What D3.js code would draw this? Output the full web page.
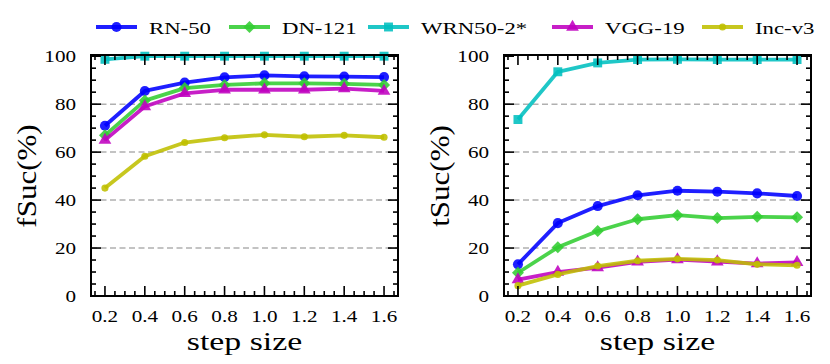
<!DOCTYPE html>
<html>
<head>
<meta charset="utf-8">
<script src="https://cdn.jsdelivr.net/npm/d3@7"></script>
<style>
  body { margin: 0; background: #fff; }
  svg text { font-family: "Liberation Serif", "Times New Roman", serif; fill: #000; }
</style>
</head>
<body>
<svg id="chart" width="830" height="364"></svg>
<script>
// step sizes on the x axis
var steps = [0.2, 0.4, 0.6, 0.8, 1.0, 1.2, 1.4, 1.6];
var stepTicks = ["0.2", "0.4", "0.6", "0.8", "1.0", "1.2", "1.4", "1.6"];
var yTicks = [0, 20, 40, 60, 80, 100];
var models = ["RN-50", "DN-121", "WRN50-2*", "VGG-19", "Inc-v3"];

// fSuc (%) per model
var fsucRN50  = [71, 85.5, 89, 91.2, 92, 91.6, 91.5, 91.3];
var fsucDN121 = [67, 81.5, 86.7, 88, 88.7, 88.7, 88.5, 88];
var fsucWRN   = [98.7, 100, 100, 100, 100, 100, 100, 100];
var fsucVGG   = [65, 79, 84.5, 86, 86, 86, 86.5, 85.5];
var fsucInc   = [45, 58.3, 64, 66, 67.2, 66.4, 67, 66.2];

// tSuc (%) per model
var tsucRN50  = [13.2, 30.4, 37.5, 42, 43.9, 43.5, 42.8, 41.7];
var tsucDN121 = [9.7, 20.3, 27.1, 32, 33.7, 32.5, 33, 32.8];
var tsucWRN   = [73.6, 93.5, 97.2, 98.6, 98.7, 98.6, 98.6, 98.6];
var tsucVGG   = [6.8, 10, 11.8, 14.2, 15.2, 14.3, 13.5, 14];
var tsucInc   = [4.3, 9, 12.5, 14.7, 15.5, 15, 13.2, 12.8];

var colors = ["#0000ff", "#32cd32", "#00bfbf", "#bf00bf", "#bfbf00"];
var markerShapes = ["circle", "diamond", "square", "triangle", "smallcircle"];

var svg = d3.select("#chart");

function markerPath(kind) {
    if (kind === "circle") return d3.symbol(d3.symbolCircle, 80)();
    if (kind === "smallcircle") return d3.symbol(d3.symbolCircle, 40)();
    if (kind === "square") return d3.symbol(d3.symbolSquare, 80)();
    if (kind === "diamond") return d3.symbol(d3.symbolSquare, 72)();
    return d3.symbol(d3.symbolTriangle, 70)();
}

// the reference text is a bit wide, so stretch it horizontally
function addText(parent, x, y, str, size, anchor, sx, rotate) {
    var t = parent.append("text")
        .attr("transform", "translate(" + x + "," + y + ")" +
            (rotate ? " rotate(" + rotate + ")" : "") + " scale(" + sx + ",1)")
        .attr("text-anchor", anchor || "start")
        .style("font-size", size + "px")
        .text(str);
    return t;
}

function drawPanel(left, label, seriesList) {
    var top = 55, bottom = 296, width = 307;
    var x = d3.scaleLinear().domain([0.13, 1.67]).range([left, left + width]);
    var y = d3.scaleLinear().domain([0, 100.5]).range([bottom, top]);
    var g = svg.append("g");

    // dashed grid
    g.selectAll(".grid").data([20, 40, 60, 80]).enter().append("line")
        .attr("x1", left).attr("x2", left + width)
        .attr("y1", function(d) { return y(d); })
        .attr("y2", function(d) { return y(d); })
        .attr("stroke", "#b0b0b0").attr("stroke-width", 1.5)
        .attr("stroke-dasharray", "6,3.5");

    // lines + markers
    var line = d3.line()
        .x(function(d, i) { return x(steps[i]); })
        .y(function(d) { return y(d); });
    seriesList.forEach(function(vals, k) {
        g.append("path").datum(vals)
            .attr("d", line)
            .attr("fill", "none")
            .attr("stroke", colors[k]).attr("stroke-opacity", 0.88)
            .attr("stroke-width", 3.8)
            .attr("stroke-linejoin", "round");
        g.selectAll(".m" + k).data(vals).enter().append("path")
            .attr("d", markerPath(markerShapes[k]))
            .attr("transform", function(d, i) {
                return "translate(" + x(steps[i]) + "," + y(d) + ")" +
                    (markerShapes[k] === "diamond" ? " rotate(45)" : "");
            })
            .attr("fill", colors[k]).attr("fill-opacity", 0.88);
    });

    // ticks, inward on all sides
    var xMinor = d3.range(0.15, 1.66, 0.05);
    var yMinor = d3.range(0, 101, 5);
    var tickG = g.append("g").attr("stroke", "#000").attr("stroke-width", 1.6);
    xMinor.forEach(function(v) {
        var major = steps.some(function(s) { return Math.abs(s - v) < 1e-6; });
        var len = major ? 10 : 5;
        tickG.append("line").attr("x1", x(v)).attr("x2", x(v)).attr("y1", bottom).attr("y2", bottom - len);
        tickG.append("line").attr("x1", x(v)).attr("x2", x(v)).attr("y1", top).attr("y2", top + len);
    });
    yMinor.forEach(function(v) {
        var len = v % 20 === 0 ? 10 : 5;
        tickG.append("line").attr("x1", left).attr("x2", left + len).attr("y1", y(v)).attr("y2", y(v));
        tickG.append("line").attr("x1", left + width).attr("x2", left + width - len).attr("y1", y(v)).attr("y2", y(v));
    });

    // frame
    g.append("rect").attr("x", left).attr("y", top)
        .attr("width", width).attr("height", bottom - top)
        .attr("fill", "none").attr("stroke", "#000").attr("stroke-width", 2);

    // tick labels
    steps.forEach(function(s, i) {
        addText(g, x(s), 322, stepTicks[i], 16, "middle", 1.32);
    });
    yTicks.forEach(function(v) {
        addText(g, left - 15, y(v) + 5.5, String(v), 16, "end", 1.32);
    });

    // axis titles
    addText(g, left + width / 2, 350, "step size", 26, "middle", 1.3);
    addText(g, left - 55, 176, label, 27, "middle", 1.15, -90);
}

drawPanel(91, "fSuc(%)", [fsucRN50, fsucDN121, fsucWRN, fsucVGG, fsucInc]);
drawPanel(504, "tSuc(%)", [tsucRN50, tsucDN121, tsucWRN, tsucVGG, tsucInc]);

// legend
var legendX = [96, 229, 368, 552, 702];
var legend = svg.append("g");
models.forEach(function(name, k) {
    var lx = legendX[k], ly = 27;
    legend.append("line")
        .attr("x1", lx).attr("x2", lx + 41).attr("y1", ly).attr("y2", ly)
        .attr("stroke", colors[k]).attr("stroke-opacity", 0.88).attr("stroke-width", 3.8);
    legend.append("path")
        .attr("d", markerPath(markerShapes[k]))
        .attr("transform", "translate(" + (lx + 20.5) + "," + ly + ")" +
            (markerShapes[k] === "diamond" ? " rotate(45)" : ""))
        .attr("fill", colors[k]).attr("fill-opacity", 0.88);
    addText(legend, lx + 53, 33.5, name, 16.5, "start", 1.38);
});
</script>
</body>
</html>
